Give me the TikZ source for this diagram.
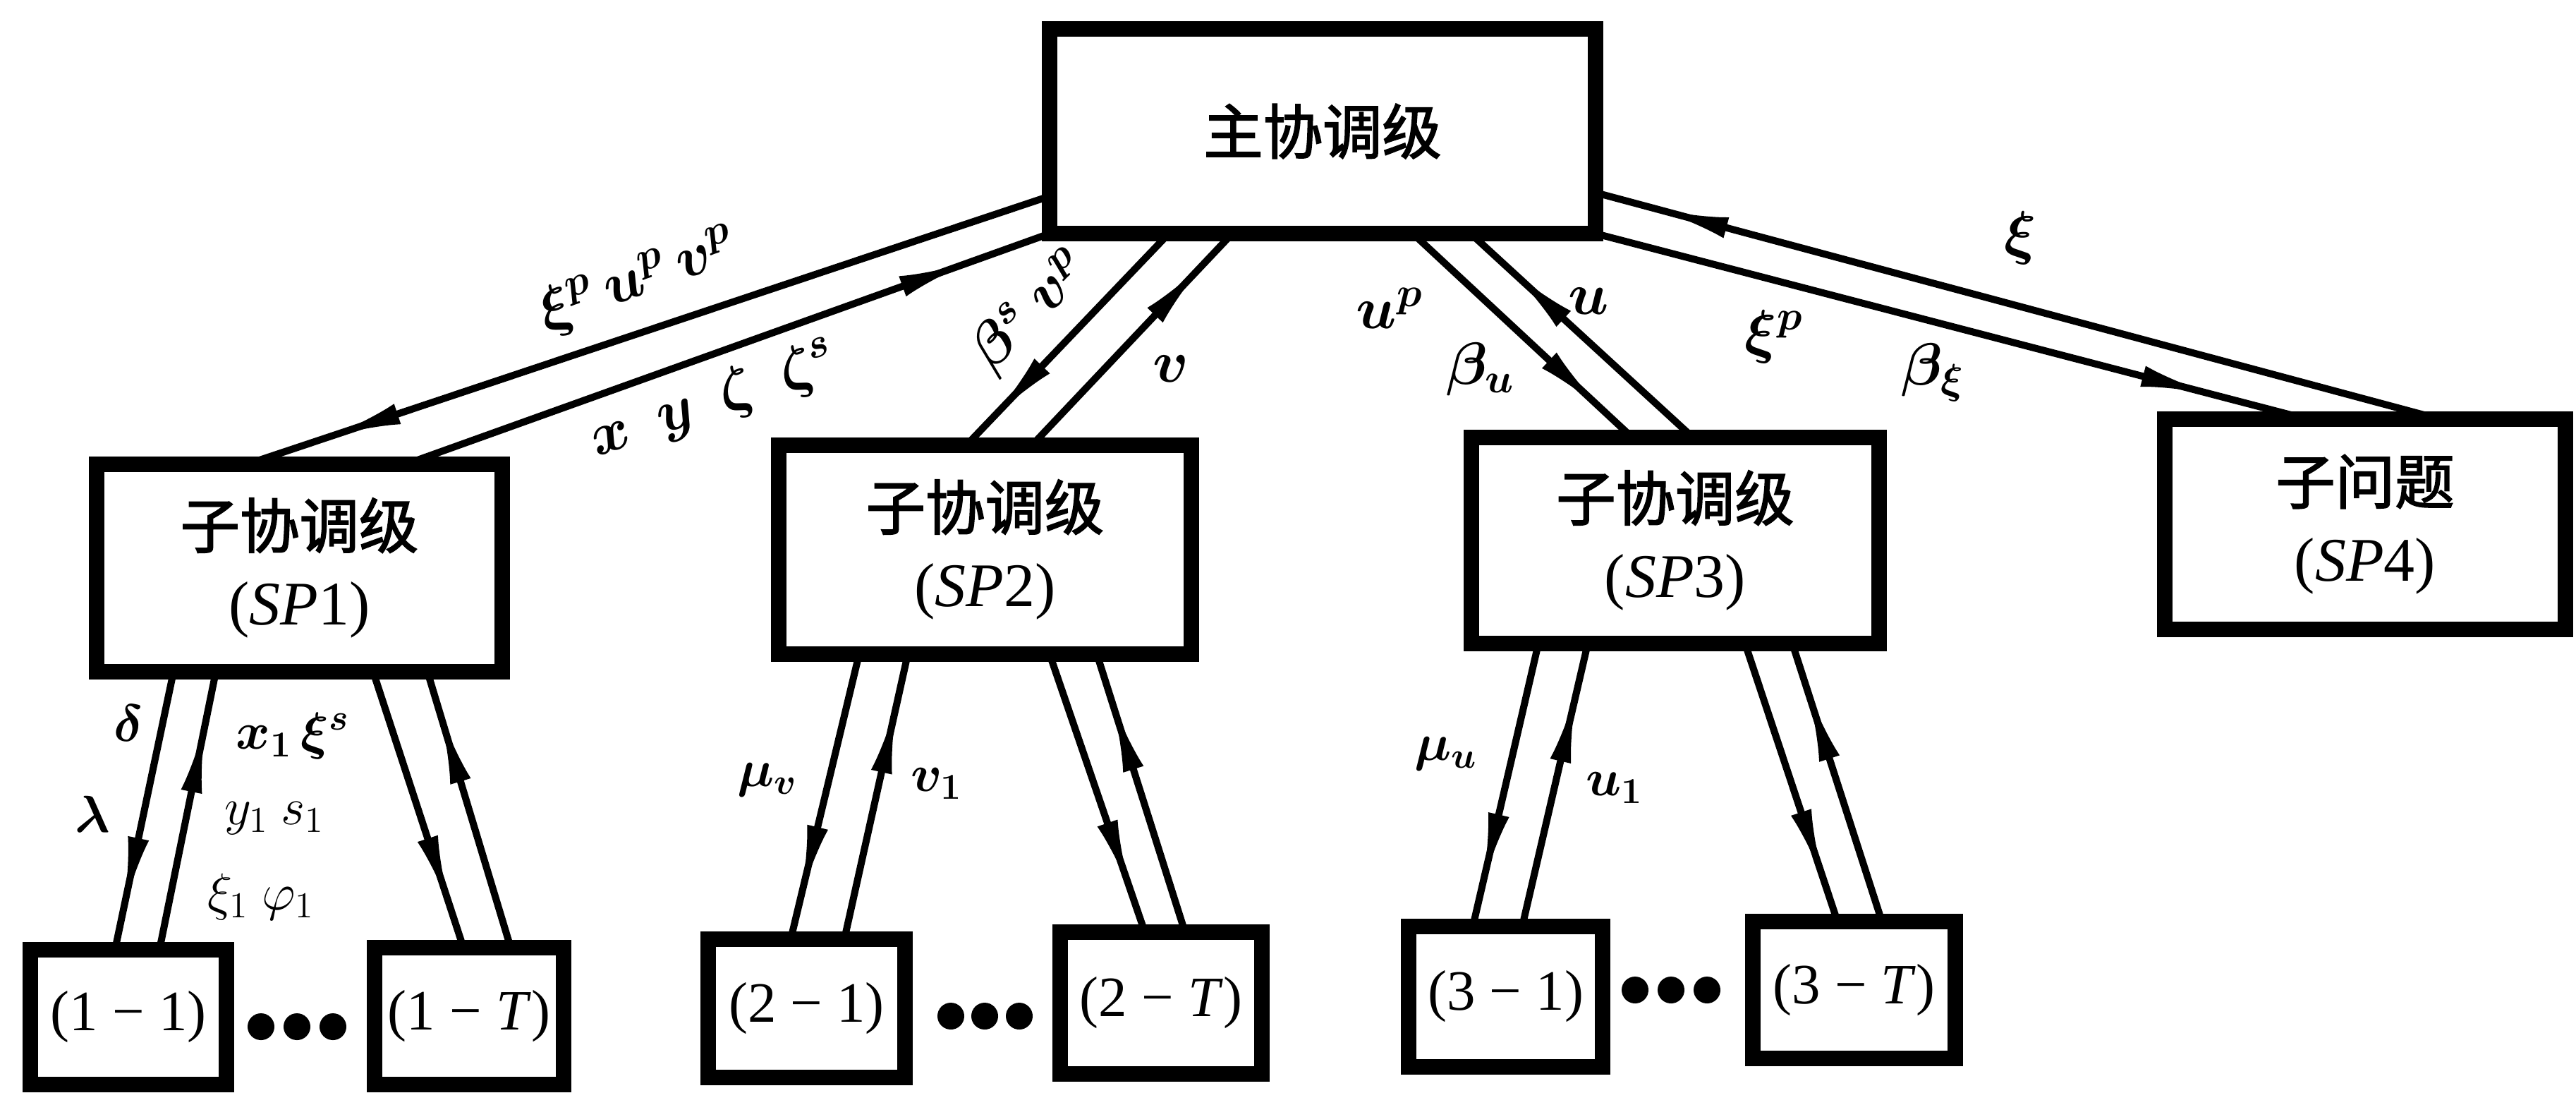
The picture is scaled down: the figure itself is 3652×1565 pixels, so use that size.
\documentclass[tikz,border=0pt]{standalone}
\usepackage{fix-cm}
\usepackage{bm}
\usepackage{fontspec}
\setmainfont{Liberation Serif}
\newfontfamily\cjk{Noto Sans CJK SC}[FakeBold=2]
\usetikzlibrary{calc,decorations.markings,arrows.meta}
\tikzset{
  x=0.01cm, y=-0.01cm,
  box/.style={draw, line width=0.22cm, fill=white, inner sep=0pt, outer sep=0pt,
              align=center, font=\fontsize{25pt}{31pt}\selectfont},
  leaf/.style={box, font=\fontsize{23pt}{28pt}\selectfont},
  sz/.style 2 args={minimum width=#1*0.01cm, minimum height=#2*0.01cm},
  conn/.style={line width=0.1cm},
  flow/.style={conn, postaction={decorate}, decoration={markings,
      mark=at position #1 with {\arrow{Latex[length=1.05cm,width=0.3cm]}}}},
  lab/.style={inner sep=0pt, font=\fontsize{24pt}{28pt}\selectfont},
  slab/.style={inner sep=0pt, font=\fontsize{21pt}{25pt}\selectfont},
  dotn/.style={circle, fill=black, inner sep=0pt, minimum size=0.38cm},
}
\newcommand{\cjt}[1]{{\fontsize{24pt}{31pt}\selectfont\cjk #1}}
\begin{document}
\begin{tikzpicture}
\useasboundingbox (0,0) rectangle (3652,1565);
% boxes
\node[box, sz={774}{290}] (main) at (1875,186) {\cjt{主协调级}};
\node[box, sz={575}{294}] (sp1) at (424.5,805) {\cjt{子协调级}\\(\textit{SP}1)};
\node[box, sz={585}{296}] (sp2) at (1396.5,779) {\cjt{子协调级}\\(\textit{SP}2)};
\node[box, sz={578}{292}] (sp3) at (2375,766) {\cjt{子协调级}\\(\textit{SP}3)};
\node[box, sz={568}{298}] (sp4) at (3353,743) {\cjt{子问题}\\(\textit{SP}4)};
\node[leaf, sz={278}{191}] (b11) at (182,1441.5) {(1 − 1)};
\node[leaf, sz={268}{194}] (b1T) at (665,1440) {(1 − \textit{T})};
\node[leaf, sz={279}{196}] (b21) at (1143.5,1429) {(2 − 1)};
\node[leaf, sz={286}{201}] (b2T) at (1646,1421.5) {(2 − \textit{T})};
\node[leaf, sz={275}{199}] (b31) at (2134.5,1412.5) {(3 − 1)};
\node[leaf, sz={287}{194}] (b3T) at (2628.5,1403) {(3 − \textit{T})};
% dots
\node[dotn] (d11) at (370,1455) {};
\node[dotn] (d12) at (421,1455) {};
\node[dotn] (d13) at (472,1455) {};
\node[dotn] (d21) at (1348,1440) {};
\node[dotn] (d22) at (1396,1440) {};
\node[dotn] (d23) at (1445,1440) {};
\node[dotn] (d31) at (2318,1403) {};
\node[dotn] (d32) at (2369,1403) {};
\node[dotn] (d33) at (2420,1403) {};
% main <-> sp1
\draw[flow=0.9]  ($(main.west)+(0,92)$) -- ($(sp1.north)+(-74.5,0)$);
\draw[flow=0.88] ($(sp1.north)+(150.5,0)$) -- (main.south west);
% main <-> sp2
\draw[flow=0.88] ($(main.south)+(-218,0)$) -- ($(sp2.north)+(-26.5,0)$);
\draw[flow=0.87] ($(sp2.north)+(66.5,0)$) -- ($(main.south)+(-128,0)$);
% main <-> sp3
\draw[flow=0.87] ($(main.south)+(128,0)$) -- ($(sp3.north)+(-61,0)$);
\draw[flow=0.83] ($(sp3.north)+(25,0)$) -- ($(main.south)+(210,0)$);
% main <-> sp4
\draw[flow=0.87] (main.south east) -- ($(sp4.north)+(-82,0)$);
\draw[flow=0.93] ($(sp4.north)+(106,0)$) -- ($(main.east)+(0,87)$);
% sp1 <-> subproblems
\draw[flow=0.86] ($(sp1.south)+(-178.5,0)$) -- ($(b11.north)+(-19,0)$);
\draw[flow=0.83] ($(b11.north)+(44,0)$) -- ($(sp1.south)+(-118.5,0)$);
\draw[flow=0.86] ($(sp1.south)+(104.5,0)$) -- ($(b1T.north)+(-8,0)$);
\draw[flow=0.86] ($(b1T.north)+(59,0)$) -- ($(sp1.south)+(181.5,0)$);
% sp2 <-> subproblems
\draw[flow=0.86] ($(sp2.south)+(-178.5,0)$) -- ($(b21.north)+(-22.5,0)$);
\draw[flow=0.84] ($(b21.north)+(53.5,0)$) -- ($(sp2.south)+(-109.5,0)$);
\draw[flow=0.86] ($(sp2.south)+(91.5,0)$) -- ($(b2T.north)+(-23,0)$);
\draw[flow=0.84] ($(b2T.north)+(34,0)$) -- ($(sp2.south)+(158.5,0)$);
% sp3 <-> subproblems
\draw[flow=0.86] ($(sp3.south)+(-194,0)$) -- ($(b31.north)+(-46.5,0)$);
\draw[flow=0.84] ($(b31.north)+(23.5,0)$) -- ($(sp3.south)+(-124,0)$);
\draw[flow=0.86] ($(sp3.south)+(99,0)$) -- ($(b3T.north)+(-23.5,0)$);
\draw[flow=0.84] ($(b3T.north)+(39.5,0)$) -- ($(sp3.south)+(166,0)$);
% top-tier labels
\node[lab, rotate=20] (l1) at (905,398) {$\bm{\xi^{p}\,u^{p}\,v^{p}}$};
\node[lab, rotate=19] (l2) at (1012,568) {$\bm{x\ \ y\ \ \zeta\ \ \zeta^{s}}$};
\node[lab, rotate=45] (l3) at (1462,442) {$\bm{\beta^{s}\ v^{p}}$};
\node[lab] (l4) at (1660,523) {$\bm{v}$};
\node[lab] (l5) at (1970,437) {$\bm{u^{p}}$};
\node[lab] (l6) at (2252,427) {$\bm{u}$};
\node[lab] (l7) at (2099,523) {$\bm{\beta_{u}}$};
\node[lab] (l8) at (2515,477) {$\bm{\xi^{p}}$};
\node[lab] (l9) at (2740,528) {$\bm{\beta_{\xi}}$};
\node[lab] (l10) at (2864,337) {$\bm{\xi}$};
% lower labels
\node[slab] (m1) at (182,1025) {$\bm{\delta}$};
\node[slab] (m2) at (131,1154) {$\bm{\lambda}$};
\node[slab] (m3) at (415,1043) {$\bm{x_{1}\,\xi^{s}}$};
\node[slab] (m4) at (389,1160) {$y_{1}\ s_{1}$};
\node[slab] (m5) at (370,1271) {$\xi_{1}\ \varphi_{1}$};
\node[slab] (m6) at (1088,1105) {$\bm{\mu_{v}}$};
\node[slab] (m7) at (1328,1111) {$\bm{v_{1}}$};
\node[slab] (m8) at (2050,1068) {$\bm{\mu_{u}}$};
\node[slab] (m9) at (2289,1117) {$\bm{u_{1}}$};
\end{tikzpicture}
\end{document}
